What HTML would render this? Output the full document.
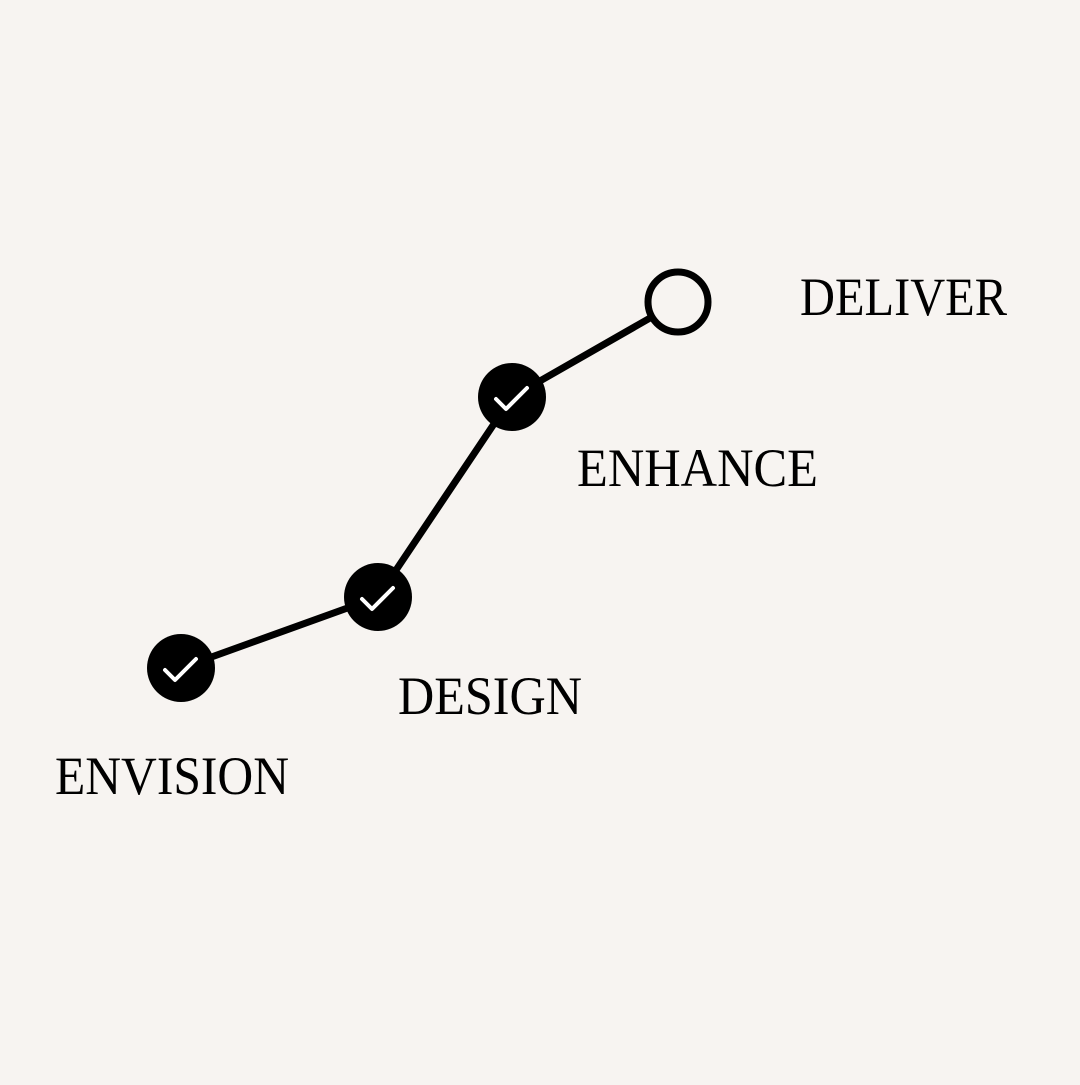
<!DOCTYPE html>
<html><head><style>html,body{margin:0;padding:0;background:#f7f4f1;} text{font-family:"Liberation Serif","Times New Roman",serif;}</style></head>
<body>
<svg width="1080" height="1080" viewBox="0 0 1080 1080" xmlns="http://www.w3.org/2000/svg">
<rect width="1080" height="1080" fill="#f7f4f1"/>
<polyline points="181,668 378,597 512,397 678,302" fill="none" stroke="#000" stroke-width="7"/>
<circle cx="181" cy="668" r="34" fill="#000"/>
<circle cx="378" cy="597" r="34" fill="#000"/>
<circle cx="512" cy="397" r="34" fill="#000"/>
<circle cx="678" cy="302" r="30" fill="#f7f4f1" stroke="#000" stroke-width="7"/>
<g fill="none" stroke="#fff" stroke-width="4" stroke-linecap="round" stroke-linejoin="round">
<polyline points="165,670 175,680 196,659"/>
<polyline points="362,599 372,609 393,588"/>
<polyline points="496,399 506,409 527,388"/>
</g>
<g font-size="54" fill="#000">
<text x="800" y="315" textLength="207" lengthAdjust="spacingAndGlyphs">DELIVER</text>
<text x="577" y="486" textLength="241" lengthAdjust="spacingAndGlyphs">ENHANCE</text>
<text x="398" y="714" textLength="184" lengthAdjust="spacingAndGlyphs">DESIGN</text>
<text x="55" y="794" textLength="234" lengthAdjust="spacingAndGlyphs">ENVISION</text>
</g>
</svg>
</body></html>
